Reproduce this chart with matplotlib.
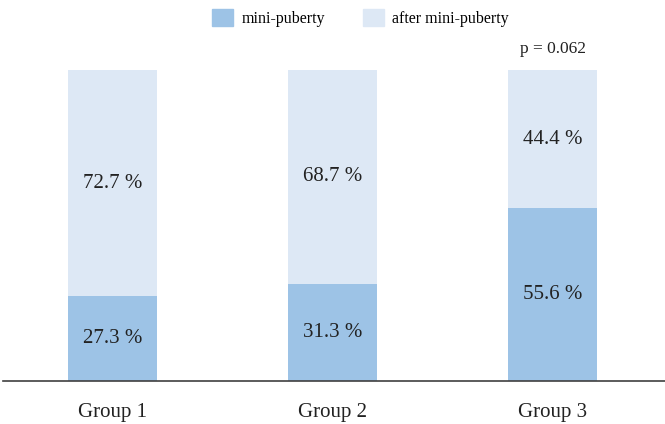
import numpy as np
import matplotlib.pyplot as plt
from matplotlib.patches import Patch

plt.rcParams['font.family'] = ['Liberation Serif', 'DejaVu Serif']

groups = ['Group 1', 'Group 2', 'Group 3']
mini = [27.3, 31.3, 55.6]
after = [72.7, 68.7, 44.4]
p_text = 'p = 0.062'

c_mini = '#9dc3e6'
c_after = '#dde8f5'

fig = plt.figure(figsize=(6.65, 4.24), dpi=100)
ax = fig.add_axes([0.0045, 0.1014, 0.9955, 0.7335])

x = np.arange(len(groups))
w = 0.405
ax.bar(x, mini, w, color=c_mini)
ax.bar(x, after, w, bottom=mini, color=c_after)

for i in range(len(groups)):
    ax.text(x[i], mini[i] / 2, f'{mini[i]:.1f} %', ha='center', va='center', fontsize=15, color='#222222')
    ax.text(x[i], mini[i] + after[i] / 2, f'{after[i]:.1f} %', ha='center', va='center', fontsize=15, color='#222222')

ax.text(x[2], 106.8, p_text, ha='center', va='center', fontsize=12.5, color='#222222', clip_on=False)

ax.set_xlim(-0.498, 2.51)
ax.set_ylim(0, 100)
for s in ['top', 'right', 'left']:
    ax.spines[s].set_visible(False)
ax.spines['bottom'].set_color('#404040')
ax.spines['bottom'].set_linewidth(1.2)
ax.set_yticks([])
ax.set_xticks(x)
ax.set_xticklabels(groups, fontsize=15, color='#222222')
ax.tick_params(axis='x', length=0, pad=16)

handles = [Patch(color=c_mini, label='mini-puberty'), Patch(color=c_after, label='after mini-puberty')]
fig.legend(handles=handles, loc='upper center', bbox_to_anchor=(0.542, 1.012), ncol=2, frameon=False,
           fontsize=11.5, columnspacing=2.4, handletextpad=0.5, handlelength=1.3, handleheight=1.2)

plt.savefig('out.png', dpi=100)
